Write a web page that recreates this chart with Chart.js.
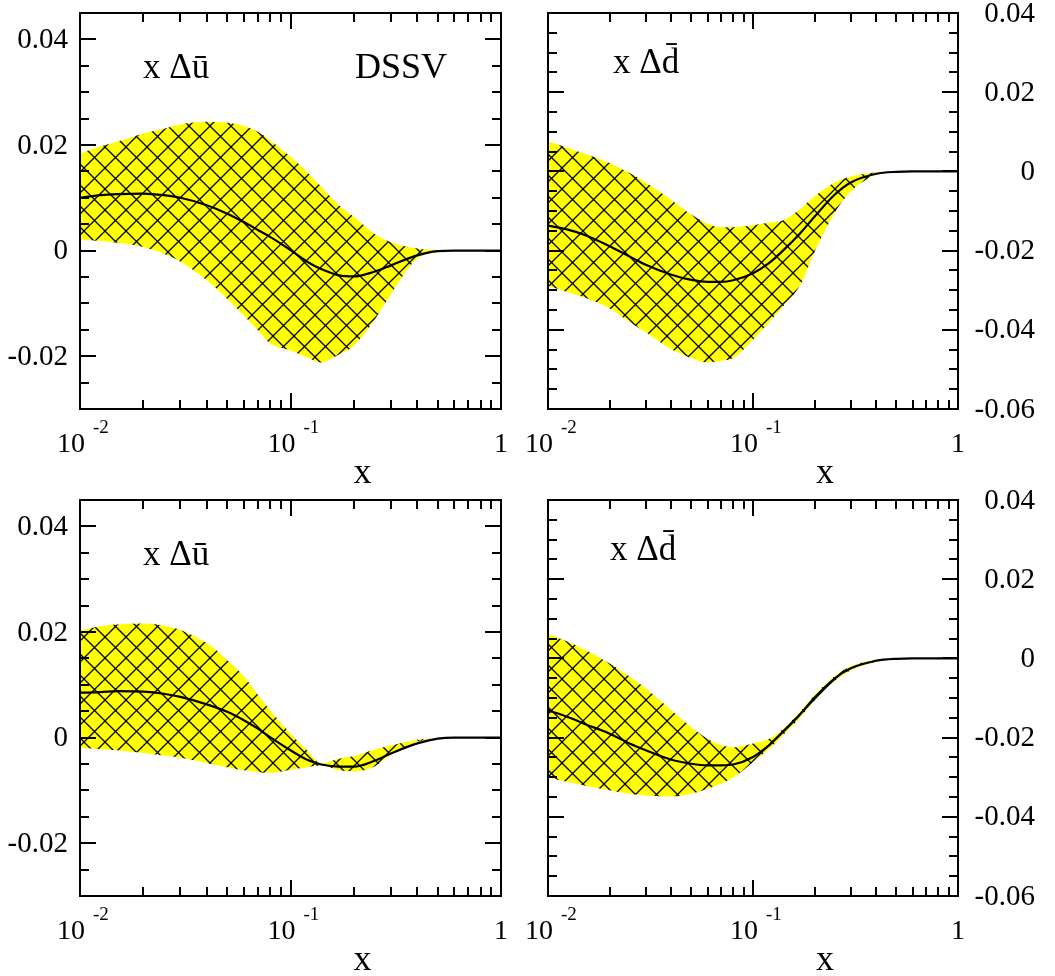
<!DOCTYPE html>
<html>
<head>
<meta charset="utf-8">
<script src="https://cdn.jsdelivr.net/npm/chart.js@4/dist/chart.umd.min.js"></script>
<style>
html,body{margin:0;padding:0;background:#fff;}
#wrap{position:relative;width:1055px;height:976px;overflow:hidden;background:#fff;}
canvas{position:absolute;}
</style>
</head>
<body>
<div id="wrap">
<canvas id="c1" width="520" height="490" style="left:0px;top:0px"></canvas>
<canvas id="c2" width="535" height="490" style="left:520px;top:0px"></canvas>
<canvas id="c3" width="520" height="486" style="left:0px;top:490px"></canvas>
<canvas id="c4" width="535" height="486" style="left:520px;top:490px"></canvas>
</div>
<script>
// ---------------- data ----------------
const xs = [0.01, 0.0125, 0.015, 0.02, 0.025, 0.03, 0.04, 0.05, 0.06, 0.07, 0.08, 0.1, 0.12, 0.14, 0.17, 0.2, 0.25, 0.3, 0.4, 0.5, 0.6, 0.8, 1.0];

// top-left: x Δū (DSSV)
const ubarTopUpper  = [0.0184,0.0197,0.0206,0.0222,0.0231,0.0239,0.0244,0.0242,0.0236,0.0225,0.0209,0.0178,0.0149,0.0121,0.0086,0.0064,0.0032,0.0016,0.0004,0.0001,0,0,0];
const ubarTopLower  = [0.0021,0.0018,0.0015,0.0007,-0.0006,-0.0021,-0.0056,-0.0091,-0.0123,-0.0151,-0.0176,-0.0189,-0.0202,-0.0212,-0.0197,-0.0180,-0.0132,-0.0082,-0.0015,-0.0003,0,0,0];
const ubarTopCentral= [0.0100,0.0105,0.0107,0.0108,0.0105,0.0100,0.0086,0.0070,0.0054,0.0039,0.0026,0.0001,-0.0021,-0.0035,-0.0047,-0.0049,-0.0040,-0.0028,-0.0009,-0.0001,0,0,0];

// top-right: x Δd̄
const dbarTopUpper  = [0.0076,0.0059,0.0045,0.0021,-0.0004,-0.0028,-0.0072,-0.0109,-0.0132,-0.0141,-0.0141,-0.0136,-0.0129,-0.0124,-0.0095,-0.0063,-0.0028,-0.0013,-0.0002,0,0,0,0];
const dbarTopLower  = [-0.0289,-0.0305,-0.0318,-0.0346,-0.0380,-0.0406,-0.0449,-0.0471,-0.0482,-0.0478,-0.0471,-0.0425,-0.0381,-0.0341,-0.0287,-0.0202,-0.0105,-0.0051,-0.0008,-0.0001,0,0,0];
const dbarTopCentral= [-0.0137,-0.0147,-0.0160,-0.0189,-0.0215,-0.0236,-0.0261,-0.0274,-0.0279,-0.0279,-0.0275,-0.0257,-0.0231,-0.0200,-0.0156,-0.0114,-0.0059,-0.0028,-0.0006,-0.0001,0,0,0];

// bottom-left: x Δū
const ubarBotUpper  = [0.0203,0.0211,0.0214,0.0216,0.0212,0.0204,0.0179,0.0147,0.0116,0.0081,0.0052,0.0008,-0.0024,-0.0049,-0.0040,-0.0035,-0.0023,-0.0015,-0.0004,-0.0001,0,0,0];
const ubarBotLower  = [-0.0019,-0.0022,-0.0024,-0.0029,-0.0034,-0.0038,-0.0048,-0.0056,-0.0062,-0.0065,-0.0067,-0.0061,-0.0056,-0.0053,-0.0062,-0.0064,-0.0055,-0.0032,-0.0008,-0.0002,0,0,0];
const ubarBotCentral= [0.0085,0.0086,0.0088,0.0087,0.0083,0.0077,0.0063,0.0049,0.0033,0.0017,0.0001,-0.0024,-0.0042,-0.0051,-0.0055,-0.0055,-0.0044,-0.0030,-0.0011,-0.0002,0,0,0];

// bottom-right: x Δd̄
const dbarBotUpper  = [0.0062,0.0042,0.0023,-0.0013,-0.0046,-0.0076,-0.0131,-0.0173,-0.0203,-0.0219,-0.0225,-0.0215,-0.0203,-0.0178,-0.0134,-0.0092,-0.0045,-0.0020,-0.0003,0,0,0,0];
const dbarBotLower  = [-0.0301,-0.0312,-0.0321,-0.0333,-0.0342,-0.0346,-0.0349,-0.0342,-0.0329,-0.0316,-0.0301,-0.0262,-0.0228,-0.0194,-0.0149,-0.0106,-0.0057,-0.0030,-0.0008,-0.0001,0,0,0];
const dbarBotCentral= [-0.0131,-0.0148,-0.0165,-0.0190,-0.0215,-0.0232,-0.0256,-0.0266,-0.0270,-0.0270,-0.0268,-0.0249,-0.0219,-0.0186,-0.0141,-0.0099,-0.0051,-0.0025,-0.0006,-0.0001,0,0,0];

// ticks and labels
const xMajorTicks    = [0.01, 0.1, 1];
const xTickMantissa  = ['10', '10', '1'];
const xTickExponent  = ['-2', '-1', ''];
const xMinorTicks    = [0.02,0.03,0.04,0.05,0.06,0.07,0.08,0.09,0.2,0.3,0.4,0.5,0.6,0.7,0.8,0.9];
const yTicksLeft     = [-0.02, 0, 0.02, 0.04];
const yLabelsLeft    = ['-0.02', '0', '0.02', '0.04'];
const yTicksRight    = [-0.06, -0.04, -0.02, 0, 0.02, 0.04];
const yLabelsRight   = ['-0.06', '-0.04', '-0.02', '0', '0.02', '0.04'];
const yRangeLeft     = [-0.03, 0.045];
const yRangeRight    = [-0.06, 0.04];
const panelTitles    = ['x Δū', 'x Δd̄', 'x Δū', 'x Δd̄'];
const setName        = 'DSSV';
const axisTitle      = 'x';

// ---------------- drawing ----------------
const FONT = '"Liberation Serif", "Times New Roman", Times, serif';

function makeHatch(ctx) {
  const s = 21;
  const c = document.createElement('canvas');
  c.width = s; c.height = s;
  const g = c.getContext('2d');
  g.fillStyle = '#ffff00';
  g.fillRect(0, 0, s, s);
  g.strokeStyle = '#000';
  g.lineWidth = 1.3;
  g.beginPath();
  for (const k of [-s, 0, s]) {
    g.moveTo(k, 0); g.lineTo(k + s, s);
    g.moveTo(k, s); g.lineTo(k + s, 0);
  }
  g.stroke();
  return ctx.createPattern(c, 'repeat');
}

function minorY(range) {
  const out = [];
  const k0 = Math.ceil(range[0] / 0.005 - 1e-9), k1 = Math.floor(range[1] / 0.005 + 1e-9);
  for (let k = k0; k <= k1; k++) {
    const v = k * 0.005;
    if (k % 4 === 0) continue;
    if (Math.abs(v - range[0]) < 1e-9 || Math.abs(v - range[1]) < 1e-9) continue;
    out.push(v);
  }
  return out;
}

function panelPlugin(cfg) {
  return {
    id: 'panelFrame',
    afterDraw(chart) {
      const ctx = chart.ctx, a = chart.chartArea;
      const sx = chart.scales.x, sy = chart.scales.y;
      ctx.save();
      ctx.strokeStyle = '#000';
      ctx.fillStyle = '#000';
      ctx.lineWidth = 2;
      ctx.lineCap = 'butt';
      ctx.beginPath();
      const xt = (v, len) => {
        const p = Math.round(sx.getPixelForValue(v));
        ctx.moveTo(p, a.bottom); ctx.lineTo(p, a.bottom - len);
        ctx.moveTo(p, a.top); ctx.lineTo(p, a.top + len);
      };
      const yt = (v, len) => {
        const p = Math.round(sy.getPixelForValue(v));
        ctx.moveTo(a.left, p); ctx.lineTo(a.left + len, p);
        ctx.moveTo(a.right, p); ctx.lineTo(a.right - len, p);
      };
      xMajorTicks.forEach(v => xt(v, 16));
      xMinorTicks.forEach(v => xt(v, 9));
      cfg.yTicks.forEach(v => yt(v, 16));
      minorY(cfg.yRange).forEach(v => yt(v, 9));
      ctx.stroke();
      ctx.strokeRect(a.left, a.top, a.right - a.left, a.bottom - a.top);

      // y tick labels
      ctx.font = '29px ' + FONT;
      ctx.textBaseline = 'middle';
      ctx.textAlign = 'right';
      const lx = cfg.side === 'left' ? a.left - 12 : a.right + 77;
      cfg.yTicks.forEach((v, i) => ctx.fillText(cfg.yLabels[i], lx, sy.getPixelForValue(v) + 1));

      // x tick labels
      ctx.textBaseline = 'alphabetic';
      const base = a.bottom + 43;
      xMajorTicks.forEach((v, i) => {
        const p = sx.getPixelForValue(v);
        if (xTickExponent[i]) {
          ctx.font = '28px ' + FONT; ctx.textAlign = 'right';
          ctx.fillText(xTickMantissa[i], p + 5, base);
          ctx.font = '19px ' + FONT; ctx.textAlign = 'left';
          ctx.fillText(xTickExponent[i], p + 13, base - 19);
        } else {
          ctx.font = '28px ' + FONT; ctx.textAlign = 'center';
          ctx.fillText(xTickMantissa[i], p, base);
        }
      });

      // axis title
      ctx.font = '36px ' + FONT; ctx.textAlign = 'center';
      ctx.fillText(axisTitle, (a.left + a.right) / 2 + 72, a.bottom + 74);

      // panel labels
      ctx.textAlign = 'left';
      cfg.labels.forEach(l => {
        ctx.font = l.size + 'px ' + FONT;
        ctx.fillText(l.text, a.left + l.dx, a.top + l.dy);
      });
      ctx.restore();
    }
  };
}

function pts(arr) { return xs.map((x, i) => ({x: x, y: arr[i]})); }

function makePanel(id, upper, lower, central, cfg, padding) {
  const canvas = document.getElementById(id);
  const ctx = canvas.getContext('2d');
  const hatch = makeHatch(ctx);
  const common = {pointRadius: 0, pointHoverRadius: 0, cubicInterpolationMode: 'monotone'};
  return new Chart(ctx, {
    type: 'line',
    data: {
      datasets: [
        Object.assign({data: pts(upper), fill: '+1', backgroundColor: hatch, borderColor: 'rgba(0,0,0,0)', borderWidth: 0, order: 2}, common),
        Object.assign({data: pts(lower), fill: false, borderColor: 'rgba(0,0,0,0)', borderWidth: 0, order: 2}, common),
        Object.assign({data: pts(central), fill: false, borderColor: '#000', borderWidth: 2.2, order: 0}, common)
      ]
    },
    options: {
      responsive: false,
      animation: false,
      events: [],
      layout: {padding: padding},
      plugins: {legend: {display: false}, tooltip: {enabled: false}},
      scales: {
        x: {type: 'logarithmic', min: 0.01, max: 1, display: false},
        y: {type: 'linear', min: cfg.yRange[0], max: cfg.yRange[1], display: false}
      }
    },
    plugins: [panelPlugin(cfg)]
  });
}

makePanel('c1', ubarTopUpper, ubarTopLower, ubarTopCentral,
  {side: 'left', yTicks: yTicksLeft, yLabels: yLabelsLeft, yRange: yRangeLeft,
   labels: [{text: panelTitles[0], dx: 63, dy: 65, size: 35}, {text: setName, dx: 275, dy: 65, size: 36}]},
  {left: 80, right: 19, top: 13, bottom: 81});

makePanel('c2', dbarTopUpper, dbarTopLower, dbarTopCentral,
  {side: 'right', yTicks: yTicksRight, yLabels: yLabelsRight, yRange: yRangeRight,
   labels: [{text: panelTitles[1], dx: 65, dy: 60, size: 35}]},
  {left: 28, right: 97, top: 13, bottom: 81});

makePanel('c3', ubarBotUpper, ubarBotLower, ubarBotCentral,
  {side: 'left', yTicks: yTicksLeft, yLabels: yLabelsLeft, yRange: yRangeLeft,
   labels: [{text: panelTitles[2], dx: 63, dy: 65, size: 35}]},
  {left: 80, right: 19, top: 10, bottom: 80});

makePanel('c4', dbarBotUpper, dbarBotLower, dbarBotCentral,
  {side: 'right', yTicks: yTicksRight, yLabels: yLabelsRight, yRange: yRangeRight,
   labels: [{text: panelTitles[3], dx: 62, dy: 60, size: 35}]},
  {left: 28, right: 97, top: 10, bottom: 80});
</script>
</body>
</html>
